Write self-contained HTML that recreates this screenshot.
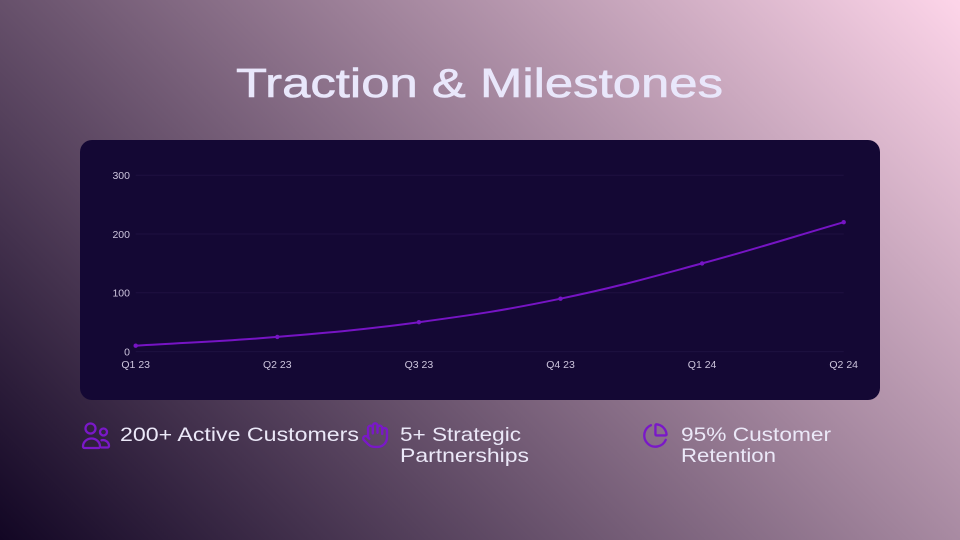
<!DOCTYPE html>
<html>
<head>
<meta charset="utf-8">
<style>
  html, body { margin: 0; padding: 0; width: 960px; height: 540px; overflow: hidden; }
  svg { display: block; }
</style>
</head>
<body>
<svg width="960" height="540" viewBox="0 0 960 540" xmlns="http://www.w3.org/2000/svg">
  <defs>
    <linearGradient id="bg" gradientUnits="userSpaceOnUse" x1="105.2" y1="644.8" x2="854.8" y2="-104.8">
      <stop offset="0" stop-color="#120624"/>
      <stop offset="1" stop-color="#fdd5e9"/>
    </linearGradient>
  </defs>
  <rect x="0" y="0" width="960" height="540" fill="url(#bg)"/>

  <!-- Title -->
  <text x="236" y="97" font-family="Liberation Sans, sans-serif" font-size="41" fill="#e9e7fb" stroke="#e9e7fb" stroke-width="0.6" textLength="487" lengthAdjust="spacingAndGlyphs">Traction &amp; Milestones</text>

  <!-- Card -->
  <rect x="80" y="140" width="800" height="260" rx="12" ry="12" fill="#140834"/>

  <!-- Gridlines -->
  <g stroke="#1e1140" stroke-width="1">
    <line x1="135.7" y1="175.2" x2="843.7" y2="175.2"/>
    <line x1="135.7" y1="234" x2="843.7" y2="234"/>
    <line x1="135.7" y1="292.8" x2="843.7" y2="292.8"/>
    <line x1="135.7" y1="351.6" x2="843.7" y2="351.6"/>
  </g>

  <!-- Y labels -->
  <g font-family="Liberation Sans, sans-serif" font-size="10.5" fill="#cdc5dd" text-anchor="end">
    <text x="130" y="179">300</text>
    <text x="130" y="237.8">200</text>
    <text x="130" y="296.6">100</text>
    <text x="130" y="355.4">0</text>
  </g>

  <!-- X labels -->
  <g font-family="Liberation Sans, sans-serif" font-size="10.5" fill="#cdc5dd" text-anchor="middle">
    <text x="135.7" y="368">Q1 23</text>
    <text x="277.3" y="368">Q2 23</text>
    <text x="418.9" y="368">Q3 23</text>
    <text x="560.5" y="368">Q4 23</text>
    <text x="702.1" y="368">Q1 24</text>
    <text x="843.7" y="368">Q2 24</text>
  </g>

  <!-- Line -->
  <path d="M135.7 345.7 C192.34 342.18 220.77 341.59 277.3 336.9 C334.05 332.19 362.49 329.81 418.9 322.2 C475.77 314.53 504.31 310.37 560.5 298.7 C617.59 286.85 645.74 278.62 702.1 263.4 C759.02 248.02 787.06 238.68 843.7 222.2" fill="none" stroke="#7614c4" stroke-width="2"/>
  <g fill="#7614c4">
    <circle cx="135.7" cy="345.7" r="2.2"/>
    <circle cx="277.3" cy="336.9" r="2.2"/>
    <circle cx="418.9" cy="322.2" r="2.2"/>
    <circle cx="560.5" cy="298.7" r="2.2"/>
    <circle cx="702.1" cy="263.4" r="2.2"/>
    <circle cx="843.7" cy="222.2" r="2.2"/>
  </g>

  <!-- Icon: users -->
  <g fill="none" stroke="#7a18c8" stroke-width="2.3" stroke-linecap="round" stroke-linejoin="round">
    <circle cx="90.5" cy="428.5" r="5"/>
    <circle cx="103.5" cy="432" r="3.5"/>
    <path d="M83 446.5 a8.5 8 0 0 1 17 0 a1.5 1.5 0 0 1 -1.5 1.5 h-14 a1.5 1.5 0 0 1 -1.5 -1.5 z"/>
    <path d="M101.5 440.3 a6 6 0 0 1 7.5 5.7 a1.5 1.5 0 0 1 -1.5 1.5 h-6"/>
  </g>

  <!-- Icon: hand -->
  <g transform="translate(361 421) scale(1.18)" fill="none" stroke="#7a18c8" stroke-width="2" stroke-linecap="round" stroke-linejoin="round">
    <path d="M18 11V6a2 2 0 0 0-2-2a2 2 0 0 0-2 2"/>
    <path d="M14 10V4a2 2 0 0 0-2-2a2 2 0 0 0-2 2v2"/>
    <path d="M10 10.5V6a2 2 0 0 0-2-2a2 2 0 0 0-2 2v8"/>
    <path d="M18 8a2 2 0 1 1 4 0v6a8 8 0 0 1-8 8h-2c-2.8 0-4.5-.86-5.990-2.34l-3.6-3.6a2 2 0 0 1 2.83-2.82L7 15"/>
  </g>

  <!-- Icon: pie chart -->
  <g transform="translate(642 422) scale(1.12)" fill="none" stroke="#7a18c8" stroke-width="2.1" stroke-linecap="round" stroke-linejoin="round">
    <path d="M21 12c.552 0 1.005-.449.95-.998a10 10 0 0 0-8.953-8.951c-.55-.055-.998.398-.998.95v8a1 1 0 0 0 1 1z"/>
    <path d="M21.21 15.890A10 10 0 1 1 8 2.83"/>
  </g>

  <!-- Stat texts -->
  <g font-family="Liberation Sans, sans-serif" font-size="19.5" fill="#ebe8f8">
    <text x="120" y="441" textLength="239" lengthAdjust="spacingAndGlyphs">200+ Active Customers</text>
    <text x="400" y="441" textLength="121" lengthAdjust="spacingAndGlyphs">5+ Strategic</text>
    <text x="400" y="462" textLength="129" lengthAdjust="spacingAndGlyphs">Partnerships</text>
    <text x="681" y="441" textLength="150" lengthAdjust="spacingAndGlyphs">95% Customer</text>
    <text x="681" y="462" textLength="95" lengthAdjust="spacingAndGlyphs">Retention</text>
  </g>
</svg>
</body>
</html>
